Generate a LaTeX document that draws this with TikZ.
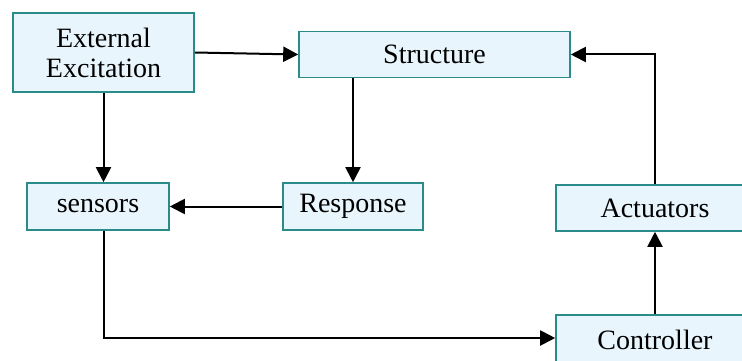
\documentclass[tikz,border=0pt]{standalone}
\usepackage{fontspec}
\setmainfont{Liberation Serif}
\usetikzlibrary{arrows.meta}
\definecolor{boxfill}{HTML}{E8F5FC}
\definecolor{boxdraw}{HTML}{2A8C8A}
\begin{document}
\begin{tikzpicture}[x=1pt,y=-1pt,
  box/.style={draw=boxdraw,fill=boxfill,line width=1.6pt,rectangle,inner sep=0pt,
    align=center,font=\fontsize{28}{30}\selectfont},
  conn/.style={line width=2pt,-{Triangle[length=15pt,width=15pt]}}]
\useasboundingbox (0,0) rectangle (742,361);
\clip (0,0) rectangle (742,361);
\fill[white] (0,0) rectangle (742,361);
\node[box,minimum width=181pt,minimum height=79pt] (ext) at (103.5,52.5) {External\\Excitation};
\node[box,minimum width=271pt,minimum height=46pt] (struct) at (434.5,54.5) {Structure};
\node[box,minimum width=142pt,minimum height=47pt] (sens) at (98,206.5) {sensors};
\node[box,minimum width=140pt,minimum height=47pt] (resp) at (353,206.5) {Response};
\node[box,minimum width=198pt,minimum height=46pt] (act) at (655,208) {Actuators};
\node[box,minimum width=198pt,minimum height=50pt] (ctrl) at (655,340) {Controller};
\draw[conn] (ext.east) -- (struct.west);
\draw[conn] (act.north) |- (struct.east);
\draw[conn] (struct.south -| resp.north) -- (resp.north);
\draw[conn] (ext.south) -- (ext.south |- sens.north);
\draw[conn] (resp.west) -- (sens.east);
\draw[conn] (ext.south |- sens.south) |- ([yshift=2pt]ctrl.west);
\draw[conn] (ctrl.north) -- (act.south);
\end{tikzpicture}
\end{document}
